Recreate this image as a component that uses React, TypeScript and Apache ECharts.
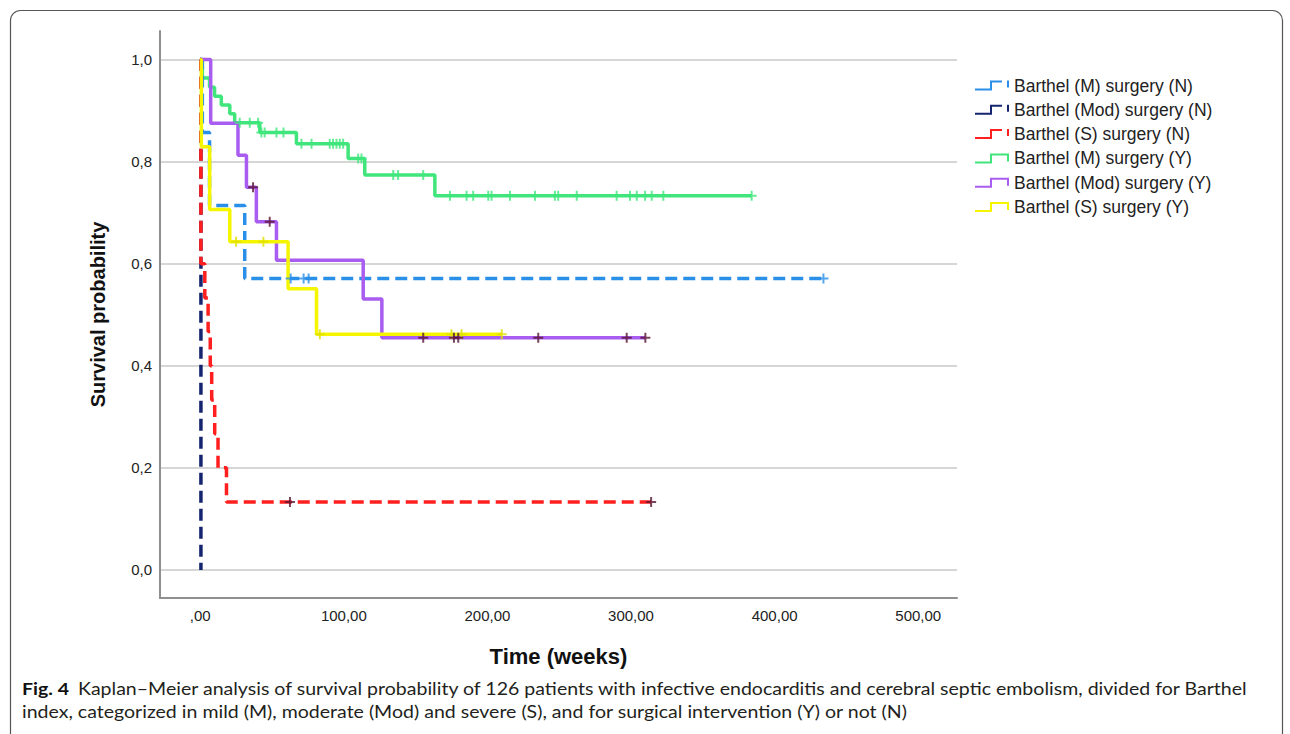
import React, { useEffect, useRef } from "react";
import * as echarts from "echarts";

// ---- data (time in weeks, survival probability) ----
const legendNames = [
  "Barthel (M) surgery (N)",
  "Barthel (Mod) surgery (N)",
  "Barthel (S) surgery (N)",
  "Barthel (M) surgery (Y)",
  "Barthel (Mod) surgery (Y)",
  "Barthel (S) surgery (Y)",
];

const xTicks = [0, 100, 200, 300, 400, 500];
const yTicks = [0, 0.2, 0.4, 0.6, 0.8, 1.0];

const mNTimes = [0, 1.5, 6.5, 31, 434];
const mNSurv = [1, 0.857, 0.714, 0.571, 0.571];
const mNCensor = [63, 72, 75.5, 434];

const modNTimes = [0, 0.5];
const modNSurv = [1, 0];
const modNCensor: number[] = [];

const sNTimes = [0, 0.5, 3.2, 5.5, 7, 8, 10.1, 12.4, 18.3, 314];
const sNSurv = [1, 0.6, 0.533, 0.467, 0.4, 0.333, 0.267, 0.2, 0.133, 0.133];
const sNCensor = [62.5, 314];

const mYTimes = [0, 1.5, 6.5, 10, 14.7, 20.6, 24, 41.5, 67, 103, 114.6, 163.4, 384];
const mYSurv = [1, 0.964, 0.946, 0.928, 0.911, 0.894, 0.876, 0.857, 0.835, 0.806, 0.774, 0.733, 0.733];
const mYCensor = [
  27.5, 34.5, 40.3, 42.6, 44.9, 53.1, 58, 70.5, 77.5, 90.2, 92.5, 94.9, 97.2, 99.5,
  110, 112.3, 134.4, 137.8, 155.3, 173.9, 185.5, 190.1, 200.6, 202.9, 215.7, 233.1,
  247, 249.3, 262.2, 290, 299.3, 304, 309.8, 314.4, 322.5, 384,
];

const modYTimes = [0, 7.3, 26.3, 32.2, 39.1, 53.1, 113.5, 126.5, 310];
const modYSurv = [1, 0.875, 0.8125, 0.75, 0.682, 0.607, 0.531, 0.455, 0.455];
const modYCensor = [36.8, 48.4, 155.3, 176.7, 179.7, 235.4, 297, 310];

const sYTimes = [0, 0.8, 6.6, 20.6, 61.2, 81, 210];
const sYSurv = [1, 0.829, 0.706, 0.643, 0.551, 0.462, 0.462];
const sYCensor = [25, 44, 83.3, 175, 182, 210];

const captionBold = "Fig. 4";
const captionLine1 =
  "Kaplan\u2013Meier analysis of survival probability of 126 patients with infective endocarditis and cerebral septic embolism, divided for Barthel";
const captionLine2 =
  "index, categorized in mild (M), moderate (Mod) and severe (S), and for surgical intervention (Y) or not (N)";

// ---- helpers ----
const pairs = (t: number[], s: number[]) => t.map((v, i) => [v, s[i]]);
const survAt = (t: number[], s: number[], x: number) => {
  let v = s[0];
  for (let i = 0; i < t.length; i++) if (t[i] <= x) v = s[i];
  return v;
};
const censorPts = (t: number[], s: number[], c: number[]) => c.map((x) => [x, survAt(t, s, x)]);

const COLORS = {
  mN: "#2a8fe8",
  modN: "#15246e",
  sN: "#ff1f1f",
  mY: "#40e67c",
  modY: "#a95cf0",
  sY: "#f5f500",
};
const MAROON = "#5a1535";

const DASH_ICON = "path://M0,8h15v-8h12v2h-10v8h-17z M32,0h2v7h-2z";
const SOLID_ICON = "path://M0,8h15v-8h19v8h-2v-6h-15v8h-17z";
const PLUS = "path://M4,0h2v4h4v2h-4v4h-2v-4h-4v-2h4z";

function measure(text: string, font: string) {
  const c = document.createElement("canvas").getContext("2d")!;
  c.font = font;
  return c.measureText(text).width;
}

export default function App() {
  const ref = useRef<HTMLDivElement>(null);

  useEffect(() => {
    document.body.style.margin = "0";
    if (!ref.current) return;
    const chart = echarts.init(ref.current, undefined, { renderer: "svg" });

    const capFont = "Lato";
    const capSize = 16.5;
    const w1 = measure(captionLine1, `${capSize}px ${capFont}`);
    const sx = (1249 - 78) / w1;

    const line = (name: string, t: number[], s: number[], color: string, dashed: boolean) => ({
      name,
      type: "line",
      step: "end",
      data: pairs(t, s),
      symbol: "none",
      color,
      itemStyle: { color },
      lineStyle: {
        color,
        width: 3.5,
        type: dashed ? [12, 6] : "solid",
      },
      silent: true,
    });
    const cens = (id: string, t: number[], s: number[], c: number[], color: string) => ({
      name: id,
      type: "scatter",
      data: censorPts(t, s, c),
      symbol: PLUS,
      symbolSize: 10,
      itemStyle: { color },
      z: 5,
      silent: true,
    });

    const option: any = {
      animation: false,
      textStyle: { fontFamily: "Liberation Sans, Arial, sans-serif" },
      grid: { left: 160, top: 31, width: 797, height: 567 },
      legend: {
        orient: "vertical",
        left: 970,
        top: 71.5,
        padding: 5,
        itemWidth: 34,
        itemHeight: 10,
        itemGap: 6.3,
        textStyle: { fontSize: 17.5, lineHeight: 17, color: "#222", fontFamily: "Liberation Sans, Arial, sans-serif" },
        selectedMode: false,
        data: legendNames.map((n, i) => ({ name: n, icon: i < 3 ? DASH_ICON : SOLID_ICON })),
      },
      xAxis: {
        type: "value",
        min: -28,
        max: 527,
        name: "Time (weeks)",
        nameLocation: "middle",
        nameGap: 47,
        nameTextStyle: { fontSize: 22, fontWeight: "bold", color: "#111" },
        axisLine: { show: true, onZero: false, lineStyle: { color: "#8f8f8f", width: 2 } },
        axisTick: { show: false, customValues: xTicks },
        splitLine: { show: false },
        axisLabel: {
          customValues: xTicks,
          margin: 10,
          fontSize: 15,
          color: "#222",
          formatter: (v: number) => (v === 0 ? ",00" : v.toFixed(2).replace(".", ",")),
        },
      },
      yAxis: {
        type: "value",
        min: -0.055,
        max: 1.056,
        name: "Survival probability",
        nameLocation: "middle",
        nameGap: 52,
        nameTextStyle: { fontSize: 20, fontWeight: "bold", color: "#111" },
        axisLine: { show: true, onZero: false, lineStyle: { color: "#8f8f8f", width: 2 } },
        axisTick: { show: false, customValues: yTicks },
        splitLine: { show: true, lineStyle: { color: "#c8c8c8", width: 1.5 } },
        axisLabel: {
          customValues: yTicks,
          margin: 8,
          fontSize: 15,
          color: "#222",
          formatter: (v: number) => v.toFixed(1).replace(".", ","),
        },
      },
      series: [
        line(legendNames[3], mYTimes, mYSurv, COLORS.mY, false),
        line(legendNames[0], mNTimes, mNSurv, COLORS.mN, true),
        line(legendNames[4], modYTimes, modYSurv, COLORS.modY, false),
        line(legendNames[1], modNTimes, modNSurv, COLORS.modN, true),
        line(legendNames[2], sNTimes, sNSurv, COLORS.sN, true),
        line(legendNames[5], sYTimes, sYSurv, COLORS.sY, false),
        cens("c-mY", mYTimes, mYSurv, mYCensor, COLORS.mY),
        cens("c-mN", mNTimes, mNSurv, mNCensor, COLORS.mN),
        cens("c-modN", modNTimes, modNSurv, modNCensor, COLORS.modN),
        cens("c-sY", sYTimes, sYSurv, sYCensor, "#dede00"),
        cens("c-modY", modYTimes, modYSurv, modYCensor, MAROON),
        cens("c-sN", sNTimes, sNSurv, sNCensor, MAROON),
      ],
      graphic: [
        {
          type: "rect",
          silent: true,
          z: -10,
          shape: { x: 10.5, y: 10.5, width: 1272, height: 800, r: 10 },
          style: { fill: "none", stroke: "#555", lineWidth: 1.2 },
        },
        {
          type: "text",
          x: 22,
          y: 689,
          scaleX: sx,
          style: {
            text: captionBold,
            font: `bold ${capSize}px ${capFont}`,
            fill: "#111",
            verticalAlign: "middle",
          },
        },
        {
          type: "text",
          x: 78,
          y: 689,
          scaleX: sx,
          style: {
            text: captionLine1,
            font: `${capSize}px ${capFont}`,
            fill: "#231f20",
            verticalAlign: "middle",
          },
        },
        {
          type: "text",
          x: 22,
          y: 712,
          scaleX: sx,
          style: {
            text: captionLine2,
            font: `${capSize}px ${capFont}`,
            fill: "#231f20",
            verticalAlign: "middle",
          },
        },
      ],
    };

    chart.setOption(option);
    return () => chart.dispose();
  }, []);

  return <div ref={ref} style={{ width: 1290, height: 734 }} />;
}
